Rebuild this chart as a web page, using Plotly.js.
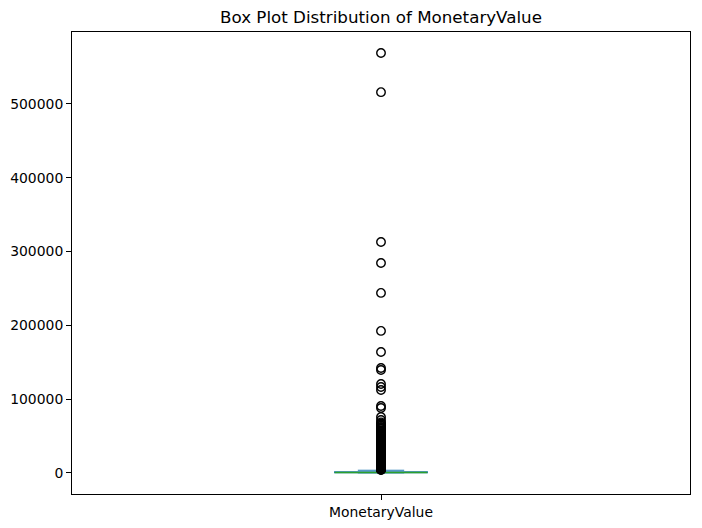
<!DOCTYPE html>
<html>
<head>
<meta charset="utf-8">
<script src="https://cdn.plot.ly/plotly-3.0.1.min.js"></script>
<style>html,body{margin:0;padding:0;background:#fff;}#chart{width:702px;height:528px;}</style>
</head>
<body>
<div id="chart"></div>
<script>
// Data
const category = "MonetaryValue";
const lowerFence = [4];
const q1 = [300];
const median = [650];
const q3 = [1650];
const upperFence = [3700];
const outliers = [
  569000, 516000, 313000, 284500, 244000, 192500, 164000, 142300, 139600,
  120600, 116500, 112500, 90800, 88100, 75900, 71800,
  68500, 67000, 65500, 64000, 62500, 61000, 59500, 58000, 56500, 55000,
  53500, 52000, 50500, 49000, 47500, 46000, 45000, 44000, 43000, 42000,
  41000, 40000, 39000, 38000, 37000, 36000, 35000, 34000, 33000, 32000,
  31000, 30000, 29000, 28000, 27000, 26000, 25200, 24400, 23600, 22800,
  22000, 21200, 20400, 19600, 18800, 18000, 17200, 16400, 15600, 14800,
  14000, 13300, 12600, 11900, 11200, 10600, 10000, 9400, 8800, 8200,
  7700, 7200, 6700, 6200, 5800, 5400, 5000, 4600, 4300, 4000
];

const boxWidth = 0.15;
const pos = 1;
const boxColor = '#1f77b4';
const medColor = '#2ca02c';

const traces = [
  {
    type: 'box',
    x: [pos],
    q1: q1, median: median, q3: q3,
    lowerfence: lowerFence, upperfence: upperFence,
    width: boxWidth,
    whiskerwidth: 0.5,
    line: {color: boxColor, width: 1.2},
    fillcolor: 'rgba(0,0,0,0)',
    boxpoints: false,
    hoverinfo: 'skip',
    showlegend: false
  },
  {
    type: 'scatter', mode: 'lines',
    x: [pos - boxWidth/2, pos + boxWidth/2],
    y: [median[0], median[0]],
    line: {color: medColor, width: 1.3},
    hoverinfo: 'skip', showlegend: false
  },
  {
    type: 'scatter', mode: 'markers',
    x: outliers.map(() => pos),
    y: outliers,
    marker: {symbol: 'circle-open', size: 8.5, color: '#000', line: {width: 1.4, color: '#000'}},
    hoverinfo: 'skip', showlegend: false
  }
];

const layout = {
  width: 702, height: 528,
  margin: {l: 72, r: 12, t: 32, b: 34, pad: 0},
  paper_bgcolor: '#fff', plot_bgcolor: '#fff',
  font: {family: 'DejaVu Sans', size: 13.9, color: '#000'},
  title: {
    text: 'Box Plot Distribution of ' + category,
    font: {family: 'DejaVu Sans', size: 16.7, color: '#000'},
    xref: 'paper', x: 0.5, xanchor: 'center',
    yref: 'container', y: 1 - 17/528, yanchor: 'middle'
  },
  xaxis: {
    range: [0.5, 1.5],
    tickmode: 'array', tickvals: [pos], ticktext: [category],
    showgrid: false, zeroline: false,
    showline: true, linecolor: '#000', linewidth: 1, mirror: true,
    ticks: 'outside', ticklen: 5, tickwidth: 1, tickcolor: '#000',
    tickfont: {family: 'DejaVu Sans', size: 13.9, color: '#000'}
  },
  yaxis: {
    range: [-28500, 597500],
    tickmode: 'array',
    tickvals: [0, 100000, 200000, 300000, 400000, 500000],
    ticktext: ['0', '100000', '200000', '300000', '400000', '500000'],
    showgrid: false, zeroline: false,
    showline: true, linecolor: '#000', linewidth: 1, mirror: true,
    ticks: 'outside', ticklen: 5, tickwidth: 1, tickcolor: '#000',
    tickfont: {family: 'DejaVu Sans', size: 13.9, color: '#000'}
  },
  showlegend: false
};

Plotly.newPlot('chart', traces, layout, {staticPlot: true, displayModeBar: false});
</script>
</body>
</html>
